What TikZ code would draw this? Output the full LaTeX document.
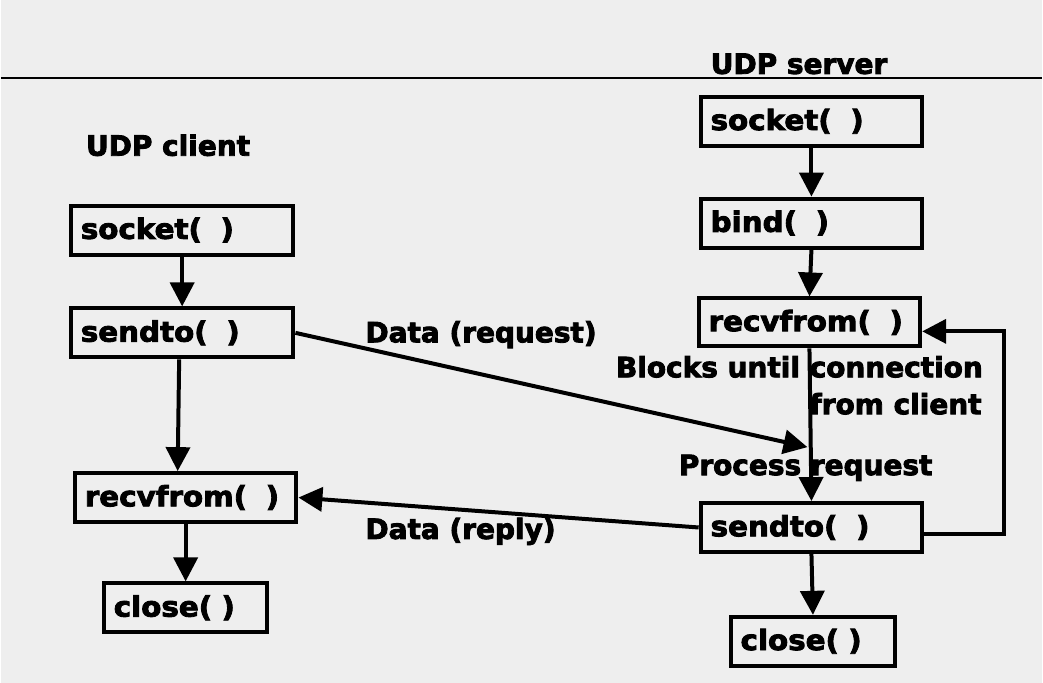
\documentclass[tikz,border=0pt]{standalone}
\usepackage{fontspec}
\setmainfont{DejaVu Sans}[BoldFeatures={FakeBold=3}]
\newfontfamily\boxfont{DejaVu Sans}[BoldFeatures={FakeBold=3,FakeStretch=1.05}]
\usepackage{tikz}
\usetikzlibrary{arrows.meta}
\definecolor{ubg}{RGB}{238,238,238}

\begin{document}
\begin{tikzpicture}[x=1pt,y=-1pt,
  fn/.style={draw,line width=4pt,minimum height=49pt,inner xsep=10pt,inner ysep=0pt,
    align=left,font=\fontsize{28}{33}\selectfont\boxfont\bfseries},
  lbl/.style={inner sep=0pt,anchor=base west,font=\fontsize{28}{33}\selectfont\bfseries},
  arr/.style={line width=4pt,-{Triangle[length=24pt,width=24pt]}}]
\fill[ubg] (0,0) rectangle (1043,684);
\draw[line width=2pt] (0,78) -- (1043,78);
\node[lbl] (c-title) at (85,156) {UDP client};
\node[lbl] (s-title) at (711,74) {UDP server};
\node[fn,text width=203pt] (c-sock) at (181.5,230.5) {socket(~~)};
\node[fn,text width=203pt] (c-send) at (181.5,333.5) {sendto(~~)};
\node[fn,text width=202pt] (c-recv) at (185,498.5) {recvfrom(~~)};
\node[fn,text width=144pt] (c-close) at (185,609) {close(~)};
\node[fn,text width=202pt] (s-sock) at (812,121.5) {socket(~~)};
\node[fn,text width=202pt] (s-bind) at (812,223.5) {bind(~~)};
\node[fn,text width=202pt,minimum height=48pt] (s-recv) at (810,323) {recvfrom(~~)};
\node[fn,text width=202pt] (s-send) at (812,528.5) {sendto(~~)};
\node[fn,text width=145pt] (s-close) at (813.5,642.5) {close(~)};
\node[lbl] (req-lbl) at (365,343) {Data (request)};
\node[lbl] (rep-lbl) at (365,540) {Data (reply)};
\node[lbl] (blk-lbl) at (616,378) {Blocks until connection};
\node[lbl] (blk-lbl2) at (810,415) {from client};
\node[lbl] (proc-lbl) at (679,476) {Process request};
\coordinate (req) at (808,448);
\coordinate (loop) at (1005,430);
\draw[arr] (c-sock.south) -- (c-send.north);
\draw[arr] ([xshift=-3pt]c-send.south) -- ([xshift=-8pt]c-recv.north);
\draw[arr] (c-recv.south) -- (c-close.north);
\draw[arr] (s-sock.south) -- (s-bind.north);
\draw[arr] (s-bind.south) -- (s-recv.north);
\draw[arr] (s-recv.south) -- (s-send.north);
\draw[arr] (s-send.south) -- (s-close.north);
\draw[arr] (c-send.east) -- (req);
\draw[arr] (s-send.west) -- (c-recv.east);
\draw[arr] ([yshift=-7pt]s-send.east) -| (loop) |- ([yshift=-9pt]s-recv.east);
\end{tikzpicture}
\end{document}
